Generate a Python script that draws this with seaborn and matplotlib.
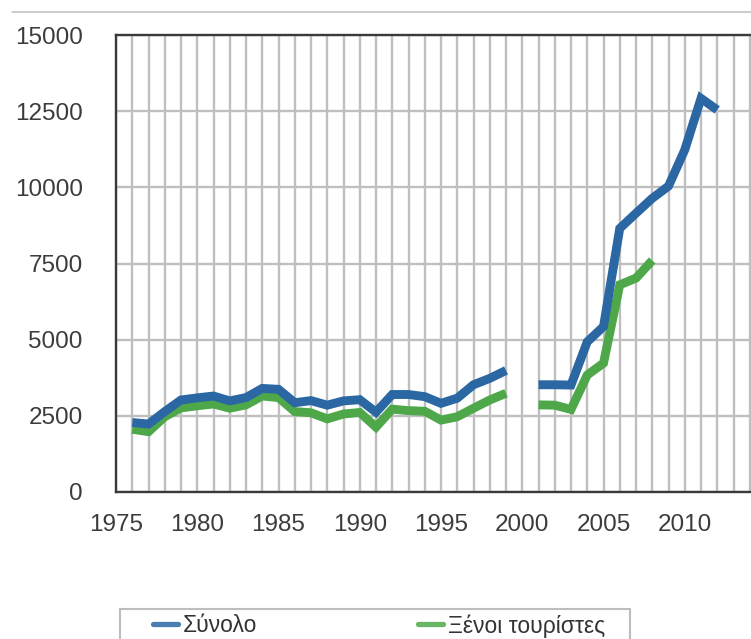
import numpy as np
import pandas as pd
import matplotlib
matplotlib.use("Agg")
import matplotlib.pyplot as plt
from matplotlib.lines import Line2D
from matplotlib.patches import Rectangle
import seaborn as sns

# ---- data ----
years = list(range(1976, 2013))
total = [2280, 2230, 2640, 3020, 3090, 3150, 2990, 3100, 3400, 3370,
         2930, 3000, 2850, 2990, 3030, 2620, 3200, 3200, 3130, 2910,
         3080, 3520, 3730, 3990, np.nan, 3520, 3520, 3510, 4930, 5430,
         8650, 9150, 9640, 10040, 11230, 12920, 12540]
foreign = [2060, 1980, 2470, 2760, 2830, 2890, 2750, 2860, 3150, 3100,
           2640, 2600, 2400, 2560, 2610, 2130, 2720, 2670, 2650, 2360,
           2470, 2750, 3020, 3240, np.nan, 2860, 2850, 2710, 3840, 4230,
           6800, 7020, 7600, np.nan, np.nan, np.nan, np.nan]
series_names = ["Σύνολο", "Ξένοι τουρίστες"]
colors = {"Σύνολο": "#2a67a3", "Ξένοι τουρίστες": "#4ea84a"}
xticks = [1975, 1980, 1985, 1990, 1995, 2000, 2005, 2010]
yticks = [0, 2500, 5000, 7500, 10000, 12500, 15000]

# build long table with segments (to keep the gap at 2000)
rows = []
for name, vals in zip(series_names, [total, foreign]):
    seg = 0
    for y, v in zip(years, vals):
        if np.isnan(v):
            seg += 1
            continue
        rows.append({"year": y, "value": v, "series": name, "segment": f"{name}_{seg}"})
df = pd.DataFrame(rows)

sns.set_theme(style="white")
plt.rcParams["font.family"] = ["Liberation Sans", "DejaVu Sans"]

fig = plt.figure(figsize=(7.51, 6.39), dpi=100)
ax = fig.add_axes([116 / 751, 147 / 639, 650 / 751, 457 / 639])

sns.lineplot(data=df, x="year", y="value", hue="series", units="segment",
             estimator=None, hue_order=["Ξένοι τουρίστες", "Σύνολο"],
             palette=colors, linewidth=6.4, legend=False, ax=ax,
             solid_capstyle="butt", solid_joinstyle="miter")

ax.set_xlim(1975, 2015)
ax.set_ylim(0, 15000)
ax.set_xticks(range(1975, 2016), minor=True)
ax.set_xticks(xticks)
ax.set_xticklabels([str(t) for t in xticks])
ax.set_yticks(yticks)
ax.set_yticklabels([str(t) for t in yticks])
ax.set_xlabel("")
ax.set_ylabel("")

ax.grid(True, which="both", axis="x", color="#bfbfbf", linewidth=1.7)
ax.grid(True, which="major", axis="y", color="#bfbfbf", linewidth=1.7)
ax.set_axisbelow(True)

for side in ["left", "bottom", "top"]:
    ax.spines[side].set_color("#3a3a3a")
    ax.spines[side].set_linewidth(1.7)
ax.spines["right"].set_visible(False)

ax.tick_params(axis="x", which="both", length=0, pad=16, labelsize=17.5, labelcolor="#3c3c3c")
ax.tick_params(axis="y", which="both", length=0, pad=24, labelsize=17.5, labelcolor="#3c3c3c")

# top separator line
fig.add_artist(Line2D([12 / 751, 1.0], [1 - 12 / 639, 1 - 12 / 639],
                      transform=fig.transFigure, color="#c4c4c4", linewidth=1.2))

# legend frame (clipped at the bottom of the picture)
fig.add_artist(Rectangle((120 / 751, -30 / 639), 510 / 751, (30 + 30) / 639,
                         transform=fig.transFigure, facecolor="white",
                         edgecolor="#bdbdbd", linewidth=1.5))

handles = [Line2D([], [], color=colors[n], linewidth=3.8, alpha=0.85) for n in series_names]
leg = fig.legend(handles, series_names, loc="upper left",
                 bbox_to_anchor=(153 / 751, -0.2, 452 / 751, 0.2 + 25 / 639),
                 bbox_transform=fig.transFigure, mode="expand", ncol=2,
                 borderaxespad=0, borderpad=0, frameon=False,
                 handlelength=1.1, handletextpad=0.2,
                 prop={"size": 16.5})
for t in leg.get_texts():
    t.set_color("#333333")

fig.savefig("out.png", dpi=100)
